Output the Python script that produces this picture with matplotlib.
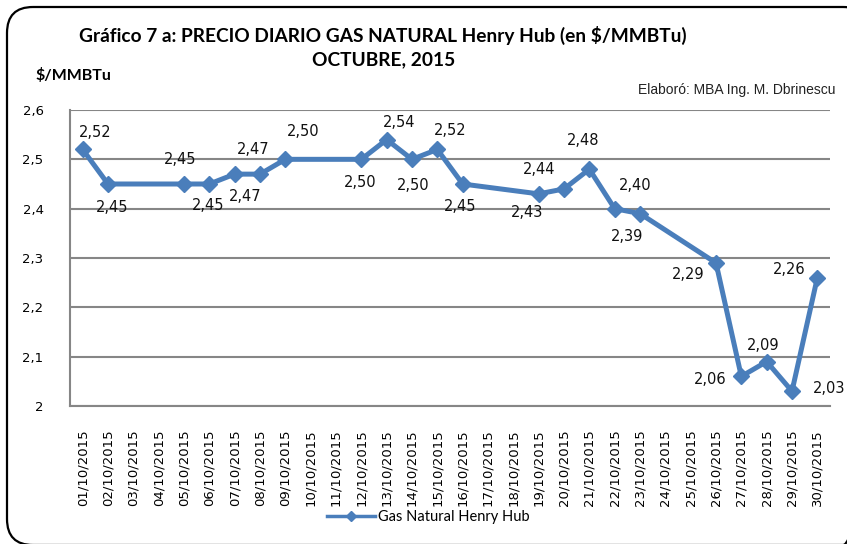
import matplotlib
matplotlib.use("Agg")
import matplotlib.pyplot as plt
from matplotlib.patches import FancyBboxPatch
from matplotlib.ticker import FuncFormatter
import numpy as np

# ---- data ----
dates = [f"{d:02d}/10/2015" for d in range(1, 31)]
obs_days = ["01", "02", "05", "06", "07", "08", "09", "12", "13", "14", "15", "16",
            "19", "20", "21", "22", "23", "26", "27", "28", "29", "30"]
prices = [2.52, 2.45, 2.45, 2.45, 2.47, 2.47, 2.50, 2.50, 2.54, 2.50, 2.52, 2.45,
          2.43, 2.44, 2.48, 2.40, 2.39, 2.29, 2.06, 2.09, 2.03, 2.26]
yticks = [2.0, 2.1, 2.2, 2.3, 2.4, 2.5, 2.6]
series_name = "Gas Natural Henry Hub"
title1 = "Gráfico 7 a: PRECIO DIARIO GAS NATURAL Henry Hub (en $/MMBTu)"
title2 = "OCTUBRE, 2015"
ylabel = "$/MMBTu"
credit = "Elaboró: MBA Ing. M. Dbrinescu"

# label offsets in pixels (dx, dy up)
label_offsets = [(13, 17), (4, -24), (-4, 24), (-1, -22), (11, -22), (-7, 25), (18, 28),
                 (-1, -23), (12, 17), (1, -26), (13, 19), (-3, -23), (-12, -19), (-25, 19),
                 (-6, 29), (21, 23), (-13, -23), (-28, -12), (-31, -3), (-3, 16), (37, 3),
                 (-28, 8)]

W, H = 847, 544
fig = plt.figure(figsize=(W / 100, H / 100), dpi=100)
fig.patch.set_facecolor("white")

# background axis in pixel coordinates
bg = fig.add_axes([0, 0, 1, 1], zorder=0)
bg.set_xlim(0, W)
bg.set_ylim(H, 0)
bg.axis("off")
box = FancyBboxPatch((7, 7), 862, 538, boxstyle="round,pad=0,rounding_size=26",
                     fill=False, edgecolor="black", linewidth=1.6)
bg.add_patch(box)

title_font = ["Lato", "DejaVu Sans"]
bg.text(383, 35, title1, ha="center", va="center", fontsize=13.8, fontweight="bold",
        family=title_font)
bg.text(384, 60, title2, ha="center", va="center", fontsize=13.8, fontweight="bold",
        family=title_font)
bg.text(35, 75, ylabel, ha="left", va="center", fontsize=11.5, fontweight="bold",
        family=title_font)
bg.text(836, 90, credit, ha="right", va="center", fontsize=10, stretch="condensed",
        family=["Liberation Sans Narrow", "Liberation Sans", "DejaVu Sans"], color="#222222")

# main axis
L, R, T, B = 70, 830, 110, 406
ax = fig.add_axes([L / W, 1 - B / H, (R - L) / W, (B - T) / H], zorder=1)
ax.patch.set_alpha(0)
xpos = [dates.index(f"{d}/10/2015") for d in obs_days]
color = "#4a7ebb"
ax.plot(xpos, prices, color=color, lw=3.6, marker="D", markersize=8,
        markeredgecolor=color, markerfacecolor=color, label=series_name, zorder=3)

for x, y, (dx, dy) in zip(xpos, prices, label_offsets):
    ax.annotate(f"{y:.2f}".replace(".", ","), (x, y), xytext=(dx, dy),
                textcoords="offset pixels", ha="center", va="center",
                fontsize=10.5, color="#111111", zorder=4)

ax.set_xlim(-0.5, len(dates) - 0.5)
ax.set_ylim(2.0, 2.6)
ax.set_xticks(range(len(dates)))
ax.set_xticklabels(dates, rotation=90, fontsize=9.5)
ax.set_yticks(yticks)
ax.yaxis.set_major_formatter(FuncFormatter(lambda v, p: "2" if abs(v - 2.0) < 1e-9 else f"{v:.1f}".replace(".", ",")))
ax.tick_params(axis="both", length=0)
ax.tick_params(axis="x", pad=17)
ax.tick_params(axis="y", pad=19, labelsize=9.5)
ax.grid(axis="y", color="#868686", lw=1.5)
ax.set_axisbelow(True)
for s in ["top", "right"]:
    ax.spines[s].set_visible(False)
ax.spines["left"].set_color("#868686")
ax.spines["left"].set_linewidth(1.5)
ax.spines["bottom"].set_color("#868686")
ax.spines["bottom"].set_linewidth(1.5)

leg = fig.legend(handles=ax.get_lines(), labels=[series_name], loc="center",
                 bbox_to_anchor=(428 / W, 1 - 517 / H), frameon=False,
                 prop={"family": title_font, "size": 10.5}, handlelength=3.3,
                 handletextpad=0.2, markerscale=0.7)
for h in leg.legend_handles:
    h.set_linewidth(2.5)

fig.savefig("out.png", dpi=100)
